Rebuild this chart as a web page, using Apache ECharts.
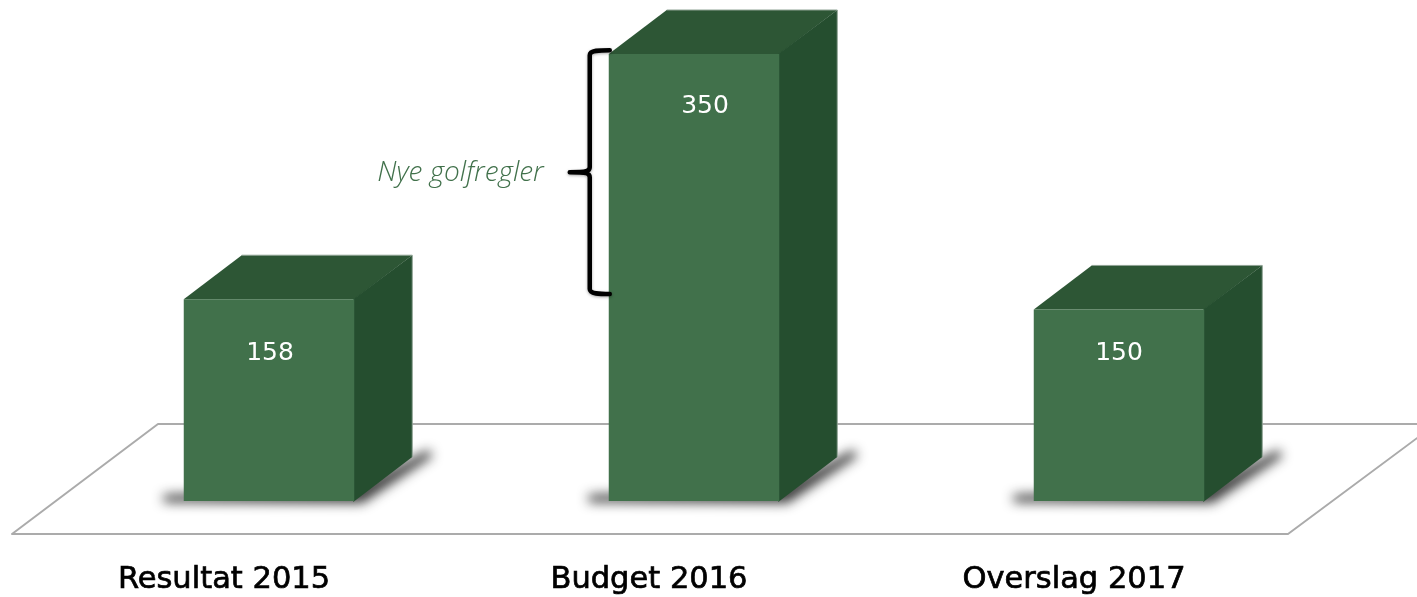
<!DOCTYPE html>
<html>
<head>
<meta charset="utf-8">
<style>html,body{margin:0;padding:0;background:#fff}#c{width:1417px;height:597px}</style>
<script src="https://cdn.jsdelivr.net/npm/echarts@6/dist/echarts.min.js"></script>
</head>
<body>
<div id="c"></div>
<script>
const categories = ['Resultat 2015', 'Budget 2016', 'Overslag 2017'];
const values = [158, 350, 150];
const braceRange = [162, 353];
const braceLabel = 'Nye golfregler';

const labelDrop = [54, 52, 44];
const labelShift = [1, 11, 0];
const depth = [58, -44];
const barWidth = 170.5;
const colors = { front: '#41714B', top: '#2D5635', side: '#254E2F', edge: '#8FA294' };
const OFF = 3000;

function renderBar(params, api) {
  const idx = api.value(0);
  const top = api.coord([idx, api.value(1)]);
  const base = api.coord([idx, 0]);
  const l = base[0] - barWidth / 2, r = base[0] + barWidth / 2;
  const t = top[1], b = base[1];
  const dx = depth[0], dy = depth[1];
  const shadowPts = [[l - 20, b - 6], [l - 20, b + 1], [r + 8, b + 2], [r + dx + 20, b + dy - 1], [r + dx + 16, b + dy - 7], [r, b - 12]];
  return {
    type: 'group',
    children: [
      { type: 'polygon', silent: true,
        shape: { points: shadowPts.map(p => [p[0] - OFF, p[1]]) },
        style: { fill: '#000', shadowBlur: 12, shadowOffsetX: OFF, shadowColor: 'rgba(40,40,40,0.95)' } },
      { type: 'polygon', shape: { points: [[l, t], [l + dx, t + dy], [r + dx, t + dy], [r, t]] },
        style: { fill: colors.top } },
      { type: 'polygon', shape: { points: [[r - 1, t], [r + dx, t + dy], [r + dx, b + dy], [r - 1, b + 1]] },
        style: { fill: colors.side } },
      { type: 'polyline', shape: { points: [[l + dx, t + dy], [r + dx, t + dy], [r + dx, b + dy]] },
        style: { fill: 'none', stroke: colors.edge, lineWidth: 1 } },
      { type: 'rect', shape: { x: l, y: t, width: barWidth, height: b - t },
        style: { fill: colors.front } },
      { type: 'text', style: {
          x: base[0] + labelShift[idx], y: t + labelDrop[idx],
          text: String(api.value(1)),
          fill: '#fff', font: '25px "DejaVu Sans"',
          align: 'center', verticalAlign: 'middle' } }
    ]
  };
}

function renderBrace(params, api) {
  const a = api.coord([api.value(0), api.value(2)]);
  const c = api.coord([api.value(0), api.value(1)]);
  const x = a[0] - barWidth / 2 + 1;
  const spine = x - 20, tip = x - 41;
  const t = a[1], b = c[1], m = (t + b) / 2;
  const d = 'M' + x + ' ' + t +
    ' C' + (x - 10) + ' ' + t + ' ' + spine + ' ' + t + ' ' + spine + ' ' + (t + 5) +
    ' L' + spine + ' ' + (m - 5) +
    ' C' + spine + ' ' + (m - 1) + ' ' + (spine - 3) + ' ' + m + ' ' + (tip + 1) + ' ' + m +
    ' C' + (spine - 3) + ' ' + m + ' ' + spine + ' ' + (m + 1) + ' ' + spine + ' ' + (m + 5) +
    ' L' + spine + ' ' + (b - 5) +
    ' C' + spine + ' ' + b + ' ' + (x - 10) + ' ' + b + ' ' + x + ' ' + b;
  return {
    type: 'group',
    children: [
      { type: 'path', shape: { pathData: d },
        style: { fill: 'none', stroke: '#000', lineWidth: 4.5, lineCap: 'round', lineJoin: 'round',
                 shadowBlur: 3, shadowColor: 'rgba(0,0,0,0.35)', shadowOffsetY: 1 } },
      { type: 'text', style: { x: tip - 25, y: m + 1, text: braceLabel,
          fill: '#41714B', font: 'italic 300 28px "Open Sans"', align: 'right', verticalAlign: 'middle' } }
    ]
  };
}

const chart = echarts.init(document.getElementById('c'), null, { renderer: 'canvas' });
chart.setOption({
  animation: false,
  backgroundColor: '#fff',
  graphic: [{
    type: 'polygon', z: 0, silent: true,
    shape: { points: [[12, 534], [158, 424], [1436, 424], [1288, 534]] },
    style: { fill: '#fff', stroke: '#ABABAB', lineWidth: 2, lineJoin: 'round' }
  }],
  grid: { left: 56.5, width: 1275, top: 54, height: 447 },
  xAxis: {
    type: 'category', data: categories,
    axisLine: { show: false }, axisTick: { show: false },
    axisLabel: { margin: 64, color: '#000', fontFamily: 'DejaVu Sans', fontSize: 30.5, padding: [0, 90, 0, 0],
      textBorderColor: '#000', textBorderWidth: 0.7 }
  },
  yAxis: { type: 'value', min: 0, max: 350, show: false, splitLine: { show: false } },
  series: [
    { type: 'custom', name: 'bars', z: 3, clip: false, renderItem: renderBar,
      data: values.map((v, i) => [i, v]), encode: { x: 0, y: 1 } },
    { type: 'custom', name: 'brace', z: 4, clip: false, renderItem: renderBrace,
      data: [[1, braceRange[0], braceRange[1]]], encode: { x: 0, y: [1, 2] } }
  ]
});
</script>
</body>
</html>
